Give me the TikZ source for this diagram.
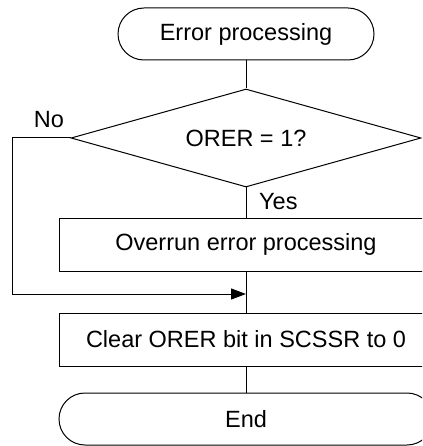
\documentclass[tikz,border=0pt]{standalone}
\usepackage{fontspec}
\setmainfont{Liberation Sans}
\usetikzlibrary{shapes.geometric,arrows.meta}
\begin{document}
\begin{tikzpicture}[x=1pt,y=1pt,
  every node/.style={font=\fontsize{23.5}{28}\selectfont},
  line/.style={line width=1pt,draw=black},
  term/.style={line,rectangle,rounded corners=26pt,minimum width=256pt,minimum height=52pt,inner sep=0pt},
  proc/.style={line,rectangle,minimum width=374pt,minimum height=53pt,inner sep=0pt},
  dec/.style={line,diamond,aspect=3.57,minimum width=350pt,minimum height=98pt,inner sep=0pt},
  lbl/.style={inner sep=0pt}]
\clip (0,0) rectangle (422,-446);
\node[term] (start) at (246,-34) {Error processing};
\node[dec] (dec) at (246,-138) {ORER = 1?};
\node[proc] (p1) at (246,-244.5) {Overrun error processing};
\coordinate (merge) at (246,-294);
\node[proc] (p2) at (246,-339.5) {Clear ORER bit in SCSSR to 0};
\node[line,rectangle,rounded corners=26pt,minimum width=374pt,minimum height=52pt,inner sep=0pt] (end) at (246,-419) {End};
\coordinate (nl) at (12,-138);
\coordinate (nb) at (12,-294);
\node[lbl] (no) at (49,-120) {No};
\node[lbl,anchor=west] (yes) at (259,-202) {Yes};
\draw[line] (start.south) -- (dec.north);
\draw[line] (dec.south) -- (p1.north);
\draw[line] (p1.south) -- (p2.north);
\draw[line] (p2.south) -- (end.north);
\draw[line,-{Triangle[length=15pt,width=11pt]}] (dec.west) -- (nl) -- (nb) -- (merge);
\end{tikzpicture}
\end{document}
